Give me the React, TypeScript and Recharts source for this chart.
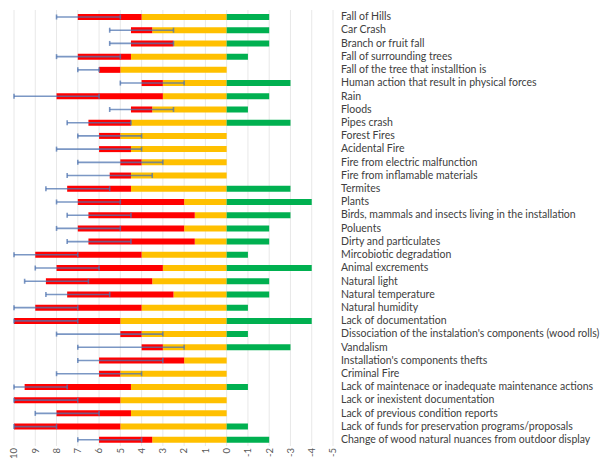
import React from 'react';
import { BarChart, Bar, XAxis, YAxis, CartesianGrid, ErrorBar } from 'recharts';

const CATEGORIES = [
  'Fall of Hills',
  'Car Crash',
  'Branch or fruit fall',
  'Fall of surrounding trees',
  'Fall of the tree that installtion is',
  'Human action that result in physical forces',
  'Rain',
  'Floods',
  'Pipes crash',
  'Forest Fires',
  'Acidental Fire',
  'Fire from electric malfunction',
  'Fire from inflamable materials',
  'Termites',
  'Plants',
  'Birds, mammals and insects living in the installation',
  'Poluents',
  'Dirty and particulates',
  'Mircobiotic degradation',
  'Animal excrements',
  'Natural light',
  'Natural temperature',
  'Natural humidity',
  'Lack of documentation',
  "Dissociation of the instalation's components (wood rolls)",
  'Vandalism',
  "Installation's components thefts",
  'Criminal Fire',
  'Lack of maintenace or inadequate maintenance actions',
  'Lack or inexistent documentation',
  'Lack of previous condition reports',
  'Lack of funds for preservation programs/proposals',
  'Change of wood natural nuances from outdoor display',
];

// orange segment (0 -> value), red segment end (cumulative), green (negative side)
const ORANGE = [4, 3.5, 2.5, 4.5, 5, 3, 3, 3.5, 4.5, 5, 4.5, 4, 4.5, 4.5, 2, 1.5, 2, 1.5, 4, 3, 3.5, 2.5, 4, 5, 4, 3, 2, 5, 4.5, 5, 4.5, 5, 3.5];
const RED_END = [7, 4.5, 4.5, 7, 6, 4, 8, 4.5, 6.5, 6, 6, 5, 5.5, 7.5, 7, 6.5, 7, 6.5, 9, 8, 8.5, 7.5, 9, 10, 5, 4, 6, 6, 9.5, 10, 8, 10, 6];
const GREEN = [-2, -2, -2, -1, 0, -3, -2, -1, -3, 0, 0, 0, 0, -3, -4, -3, -2, -2, -1, -4, -2, -2, -1, -4, -1, -3, 0, 0, -1, 0, 0, -1, -2];

// error range (low / high end on the value scale)
const ERR_LOW = [5, 2.5, 2.5, 5, 6, 2, 6, 2.5, 4.5, 4, 4, 3, 3.5, 5.5, 5, 4.5, 5, 4.5, 7, 6, 6.5, 5.5, 7, 7, 3, 2, 3, 4, 7.5, 7, 6, 8, 4];
const ERR_HIGH = [8, 5.5, 5.5, 8, 7, 5, 10, 5.5, 7.5, 7, 8, 7, 7.5, 8.5, 8, 7.5, 8, 7.5, 10, 9, 9.5, 8.5, 10, 10, 8, 7, 7, 8, 10, 10, 9, 10, 7];

const X_TICKS = [10, 9, 8, 7, 6, 5, 4, 3, 2, 1, 0, -1, -2, -3, -4, -5];

const data = CATEGORIES.map((name, i) => ({
  name,
  orange: ORANGE[i],
  red: RED_END[i] - ORANGE[i],
  green: GREEN[i] === 0 ? null : GREEN[i],
  err: [RED_END[i] - ERR_LOW[i], ERR_HIGH[i] - RED_END[i]],
}));

const XTick = ({ x, y, payload }: any) => (
  <text
    x={x}
    y={y}
    dy="0.35em"
    transform={`rotate(-90, ${x}, ${y})`}
    textAnchor="end"
    fontSize={9.5}
    fontFamily="Lato, sans-serif"
    fill="#595959"
  >
    {payload.value}
  </text>
);

const YTick = ({ x, y, payload }: any) => (
  <text x={x} y={y} dy="0.35em" textAnchor="start" fontSize={10.5} fontFamily="Lato, sans-serif" fill="#404040">
    {payload.value}
  </text>
);

export default function App() {
  return (
    <div style={{ position: 'absolute', left: 0, top: 0, background: '#fff', fontFamily: 'Lato, sans-serif' }}>
      <BarChart
        width={600}
        height={466}
        data={data}
        layout="vertical"
        stackOffset="sign"
        barSize={6}
        margin={{ top: 10, right: 0, bottom: 0, left: 14 }}
      >
        <CartesianGrid horizontal={false} stroke="#e8e8e8" />
        <XAxis
          type="number"
          domain={[-5, 10]}
          ticks={X_TICKS}
          reversed
          allowDataOverflow
          axisLine={false}
          tickLine={false}
          tickSize={0}
          tickMargin={2}
          height={20}
          interval={0}
          tick={<XTick />}
        />
        <YAxis
          type="category"
          dataKey="name"
          orientation="right"
          width={267}
          axisLine={false}
          tickLine={false}
          interval={0}
          tick={<YTick />}
        />
        <Bar dataKey="orange" stackId="a" fill="#ffc000" isAnimationActive={false} />
        <Bar dataKey="red" stackId="a" fill="#ff0000" isAnimationActive={false}>
          <ErrorBar dataKey="err" direction="x" width={2.5} stroke="#4f74b0" strokeWidth={1.6} strokeOpacity={0.75} />
        </Bar>
        <Bar dataKey="green" stackId="a" fill="#00b050" isAnimationActive={false} />
      </BarChart>
    </div>
  );
}
